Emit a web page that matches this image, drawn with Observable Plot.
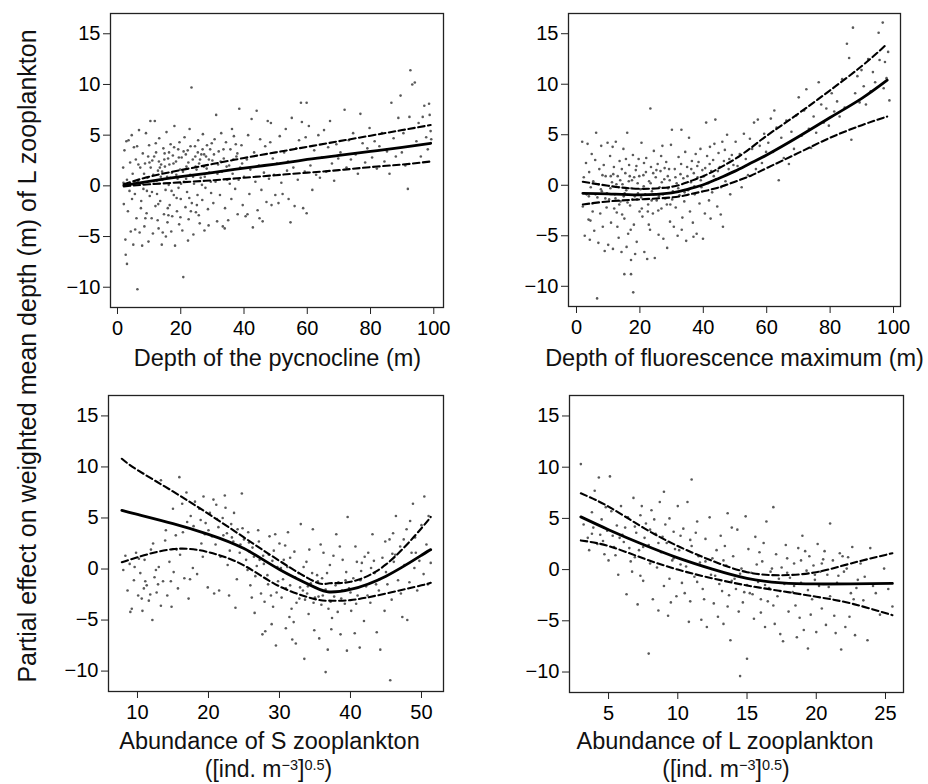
<!DOCTYPE html>
<html><head><meta charset="utf-8">
<script src="https://cdn.jsdelivr.net/npm/d3@7"></script>
<script src="https://cdn.jsdelivr.net/npm/@observablehq/plot@0.6"></script>
<style>
body{margin:0;background:#fff;}
#fig{position:relative;width:928px;height:784px;background:#fff;font-family:"Liberation Sans",Arial,Helvetica,sans-serif;}
#fig > svg{position:absolute;}
</style></head><body><div id="fig"></div>
<script>
// ---------- shared ----------
const yTicks = [-10, -5, 0, 5, 10, 15];
const yLabel = "Partial effect on weighted mean depth (m) of L zooplankton";

// ---------- panel 1: depth of the pycnocline ----------
const p1Title = "Depth of the pycnocline (m)";
const p1Ticks = [0, 20, 40, 60, 80, 100];
const p1FitX  = [2, 10, 20, 30, 40, 50, 60, 70, 80, 90, 99];
const p1Fit   = [0.05, 0.45, 0.9, 1.3, 1.75, 2.15, 2.6, 3.0, 3.4, 3.8, 4.2];
const p1Upper = [0.15, 0.9, 1.55, 2.15, 2.75, 3.3, 3.85, 4.4, 4.95, 5.5, 6.0];
const p1Lower = [-0.05, 0.15, 0.35, 0.55, 0.8, 1.05, 1.3, 1.55, 1.85, 2.1, 2.4];
const p1Points = [
[1.8,1.8],[2,-1.8],[2.2,3.5],[2.5,-5.3],[2.6,-6.8],[3,-7.7],[3,0.6],[3.5,4.5],[3.8,-0.5],[4,2.3],[4.2,-4.5],[4.5,5],[4.8,1.2],[5,-5.8],[5.2,3.8],[5.5,-0.8],[3.3,-2.5],[2.8,4.4],[4.6,-1.3],[1.9,0.3],
[5.8,2.6],[6,-3.2],[6.3,-10.2],[6.5,0.5],[6.8,5.5],[7,-4.6],[7.2,1.8],[7.5,-1.5],[7.8,-5.9],[8,3.2],[8.2,-0.3],[8.5,-4],[8.7,2.2],[9,5.2],[9.2,-2.7],[9.5,0.8],[9.8,-5.5],[10,4],[10.2,-1],[10.5,1.8],[6.2,3.9],[7.4,-2.2],[8.8,-3.2],[9.7,2.9],[5.6,-4.3],[10.4,6.4],[9.3,-0.5],[7.9,0.2],
[10.8,-3.2],[11,2.5],[11.2,-4.7],[11.5,0.2],[11.8,6.4],[12,-2],[12.2,3.3],[12.5,-0.8],[12.8,1.5],[13,-4.2],[13.2,4.7],[13.5,-1.5],[13.8,2.1],[14,-5.8],[14.2,0.6],[14.5,3.7],[14.7,-2.8],[15,1.9],[15.2,-0.4],[15.5,5.3],[15.8,-3.6],[16,2.7],[16.2,0.1],[16.5,-1.9],[16.8,4.1],[17,-4.5],[17.2,1.3],[17.5,3],[17.8,-0.9],[18,5.9],[18.2,-5.9],[18.5,2.4],[18.8,-2.5],[19,0.7],[19.2,3.6],[19.5,-3.8],[19.8,1.6],[20,-1.3],[11.3,1.1],[12.7,-3.4],[13.7,0.9],[14.8,2.6],[15.9,-2.2],[16.7,0.8],[17.7,2.2],[18.7,-1.2],[19.6,4.3],[10.9,-0.6],[14.3,-4.6],[16.3,3.3],[17.3,-3],[19.3,-0.2],[12.1,4.2],[13.4,1.8],[15.3,-5],
[20.3,2.8],[20.5,-4.4],[20.8,-9],[21,0.4],[21.2,4.8],[21.5,-2.1],[21.8,1.9],[22,-0.6],[22.2,3.5],[22.5,-3.3],[22.8,5.6],[23,1.1],[23.4,9.7],[23.5,-1.7],[23.8,2.6],[24,-4.8],[24.2,0.2],[24.5,3.9],[24.8,-2.6],[25,1.6],[25.3,-0.9],[25.5,4.5],[25.8,2.2],[26,-3.7],[26.3,0.8],[26.5,3.1],[26.8,-1.4],[27,5.1],[27.3,1.9],[27.5,-4.4],[27.8,-0.2],[28,2.9],[28.3,4],[28.6,-2.3],[29,1.3],[29.3,3.6],[29.6,-0.7],[30,2.5],[20.7,1.4],[22.3,-5.4],[24.6,2.9],[26.9,3.6],[28.8,-3.9],[21.6,3.1],[23.2,-2.5],[25.7,-2.9],[27.6,0.9],[29.8,4.2],
[30.3,-1.7],[30.7,4.6],[31,0.4],[31.2,7],[31.5,-3.5],[31.8,2.1],[32,3.4],[32.4,-0.9],[32.8,5.2],[33,1.4],[33.3,-4],[33.6,2.7],[34,-2.2],[34.3,4.3],[34.7,0.6],[35,-3.4],[35.3,2],[35.7,3.6],[36,-1.3],[36.4,1.2],[36.8,4.9],[37.2,-0.3],[37.6,2.9],[38,-2.8],[38.5,7.6],[38.8,1.8],[39.2,4],[39.6,-1.9],[40,0.9],[33.9,-4.2],[36.2,5.6],[37.9,3.2],
[40.5,-3],[40.9,2.6],[41.3,5],[41.7,-0.8],[42,1.6],[42.4,6.6],[42.8,-4.1],[43.2,3.3],[43.6,0.4],[44,7.4],[44.3,-2.4],[44.7,2],[45.1,4.6],[45.5,-0.4],[45.9,-3.5],[46.3,1.3],[46.7,3.9],[47.1,-1.6],[47.5,6.4],[47.9,0.7],[48.3,4.3],[48.7,-1.9],[49.1,2.7],[49.5,1.1],[49.9,-0.9],[48.5,6.2],[41.1,-2.8],[44.9,-3.2],
[50.4,2.2],[50.9,-1.7],[51.3,4.9],[51.8,0.3],[52.2,-0.8],[52.7,3.3],[53.2,5.6],[53.6,1.5],[54.1,-1.3],[54.7,-3.6],[55.1,6.7],[55.6,1.8],[56,-2],[56.5,3.7],[57,0.6],[57.4,4.5],[58,8.2],[58.3,6.3],[58.7,-2.2],[59.2,1.4],[59.8,-2.7],[59.8,8.2],[59.5,4.8],[53.9,2.4],
[60.5,5.9],[61,2],[61.6,-0.4],[62.2,3.5],[62.8,1.1],[63.5,5],[64,0.8],[64.6,2.8],[65.3,5.5],[66,1.4],[66.6,3.8],[67.2,6.4],[67.8,2.2],[68.5,0.5],[69.2,4.1],[69.8,2.7],
[70.5,3.3],[71.8,7.5],[72.4,1.8],[73.1,4.5],[73.8,2.6],[74.5,5.2],[75.3,3.1],[76,1.2],[76.8,7.1],[77.5,4.2],[78.3,2.3],[79,3.7],[79.7,5.7],
[80.5,2.8],[81.3,4.4],[82,1.7],[82.8,3.9],[83.6,5.2],[84.4,2.4],[85.2,3.4],[86,1.2],[86.6,8.2],[87.3,4.7],[88,2.9],[88.8,6.7],[89.5,8.9],[89.9,3.3],
[90.4,5.2],[91,2],[91.8,-0.3],[92.6,11.4],[92.3,6.8],[93.2,10],[94,10.2],[94.5,4.4],[95.2,6.2],[95.9,2.9],[96.5,6.8],[97,7.9],[97.6,4.8],[98.1,3.6],[98.5,8.1],[98.7,7],[99,5.4],[99.2,4.6],
[11.6,2.9],[12.4,0.5],[13.1,2.4],[14.1,1.4],[14.9,3.2],[15.7,0.9],[16.4,2.1],[17.1,-0.5],[17.9,3.8],[18.6,1.1],[19.4,2.8],[20.1,0.2],[20.9,3.4],[21.7,0.7],[22.4,2.3],[23.1,3.9],[23.9,0.9],[24.7,1.9],[25.4,3.3],[26.1,2.6],[26.7,0.1],[27.4,3.1],[28.2,1.7],[28.9,2.6],[29.5,0.4],[30.5,3.1],[31.6,1.2],[32.6,2.4],[33.5,3.6],[34.5,1.9],[35.5,0.2],[36.6,2.6],[37.4,4.1],[38.3,0.6],[39.4,2.2],[12.9,-1.8],[16.1,-2.9],[19.9,-3.1],[22.7,-1.2],[25.1,-1.9],[10.1,2.3],[8.4,1.2],[6.6,2.1],[5.3,0.4]
];

// ---------- panel 2: depth of fluorescence maximum ----------
const p2Title = "Depth of fluorescence maximum (m)";
const p2Ticks = [0, 20, 40, 60, 80, 100];
const p2FitX  = [2, 10, 20, 30, 35, 40, 45, 50, 55, 60, 70, 80, 90, 98];
const p2Fit   = [-0.8, -0.85, -0.95, -0.75, -0.4, 0.05, 0.7, 1.4, 2.2, 3.0, 4.8, 6.7, 8.6, 10.4];
const p2Upper = [0.35, -0.05, -0.35, -0.15, 0.3, 0.9, 1.7, 2.6, 3.7, 4.9, 7.1, 9.4, 11.8, 14.0];
const p2Lower = [-1.9, -1.6, -1.4, -1.2, -0.95, -0.6, -0.2, 0.35, 0.95, 1.7, 3.2, 4.7, 5.95, 6.8];
const p2Points = [
[1.8,4.3],[2,-2.1],[2.3,0.8],[2.6,-5],[3,2.2],[3.2,-0.9],[3.5,4.1],[3.8,-3.4],[4,1.3],[4.2,-5.4],[4.5,-0.2],[4.8,3.1],[5,-1.8],[5.3,0.4],[5.6,-4.5],[5.9,2.5],[6.2,5.2],[6.5,-11.2],[6.6,-1.2],[6.9,-5.7],[7.2,1.6],[7.5,-2.8],[7.8,3.9],[8,-0.6],[8.3,-4.1],[8.6,2],[8.9,-6.5],[9.2,0.9],[9.5,-2.2],[9.8,4.2],[10,-5.9],[7,0.1],[8.2,1],[4.4,-3.5],[9.6,-0.8],[5.1,-2.6],
[10.3,-1.4],[10.6,2.9],[10.9,-3.7],[11.2,0.3],[11.5,-6.3],[11.8,1.8],[12.1,-0.9],[12.4,4.3],[12.7,-2.7],[13,0.9],[13.3,-5.2],[13.6,2.4],[13.9,-1.6],[14.2,-6.6],[14.5,0.1],[14.8,3.6],[15.1,-8.8],[15.1,-3.3],[15.4,1.2],[15.7,-0.5],[16,5.2],[16.3,-4.8],[16.6,2],[16.9,-2],[17.2,-8.8],[17.2,-7.4],[17.5,0.5],[17.9,-10.6],[17.8,3],[18.1,-3.9],[18.4,-1.1],[18.7,1.5],[19,-5.6],[19.3,0.2],[19.6,2.6],[19.9,-2.6],[10.8,0.9],[11.9,-2.3],[12.9,-4.1],[13.8,0.5],[14.9,-1.1],[15.8,-6.1],[16.8,0.9],[17.6,-1.4],[18.5,-6.8],[19.4,-0.8],[11.4,3.8],[13.4,-0.2],[15.6,2.6],[17.1,-4.4],[18.9,1.9],[12.3,-1.3],[14.4,-2.9],
[20.2,-0.4],[20.5,4.2],[20.8,-3.1],[21.1,1],[21.4,-6.6],[21.7,-0.9],[22,2.7],[22.3,-7.3],[22.6,-1.9],[22.9,0.4],[23.3,7.6],[23.2,-4.4],[23.5,1.8],[23.8,-0.6],[24.1,-2.8],[24.4,3.4],[24.7,-7.2],[25,0.8],[25.3,-1.5],[25.6,2.1],[25.9,-4.9],[26.2,-0.2],[26.5,1.4],[26.8,-2.3],[27.1,3.9],[27.4,-5.3],[27.7,0.6],[28,-1.3],[28.3,2.3],[28.6,-6.2],[28.9,-0.3],[29.2,1.6],[29.5,-3.6],[29.8,4],[21.3,2.2],[22.8,-3.9],[24.2,1.2],[25.8,-2.5],[27.3,-0.9],[28.8,0.9],[20.6,-2.3],[23.7,-1.5],[26.7,2.9],[29.6,-1.9],
[30.1,5.5],[30.4,-0.6],[30.7,-4.1],[31,1.6],[31.3,-2.2],[31.6,0.2],[31.9,-5],[32.2,2.8],[32.5,-1],[32.8,1.1],[33.1,5.5],[33.4,-3.2],[33.7,0.7],[34,-1.6],[34.3,3.3],[34.6,-5.5],[34.9,1.8],[35.2,-0.5],[35.5,4.7],[35.8,-2.6],[36.1,0.3],[36.4,2.4],[36.7,-3.7],[37,1.2],[37.3,-0.9],[37.6,3.1],[37.9,-4.8],[38.2,0.8],[38.5,2.3],[38.8,-1.8],[39.1,3.6],[39.4,-0.2],[39.7,1.5],[33.2,-4.4],[36.9,-5.1],[39.9,-5.3],
[40.2,0.9],[40.5,-2.8],[40.9,6.2],[41.2,2.9],[41.5,0.2],[41.8,-1.5],[42.1,3.8],[42.5,1.4],[42.8,-0.7],[43.1,2.5],[43.8,6.5],[43.5,4.1],[44,0.6],[44.4,-2.1],[44.8,3.2],[45.2,1.8],[45.6,-0.2],[46,4.3],[46.2,-4.1],[46.5,2.4],[47,0.4],[47.5,5],[48,1.6],[48.5,-0.9],[49,3],[49.5,2],[42.3,-3.3],[45.5,-2.9],
[50.2,4.3],[50.8,1.9],[51.5,3.1],[52.1,-0.2],[52.8,5.1],[53.4,2.6],[54.1,1],[54.7,4.6],[55.4,3.6],[56,6.2],[56.6,1.6],[57.2,6.5],[57.8,3.9],[58.5,2.2],[59.2,5.1],[59.8,3.3],
[60.5,4.2],[61.3,6.6],[62,3.3],[62.4,7.4],[63.1,5.7],[63.8,0.5],[64.6,4.7],[65.4,2.7],[66.2,6.4],[67,2.1],[67.8,5.3],[68.6,3.6],[69.3,6.9],[70.1,8.7],
[71,4.9],[71.8,7.4],[72.5,9.5],[73.3,5.6],[74,3.7],[74.8,6.8],[75.6,5.2],[76.4,10.2],[77.2,8],[78,6.2],[78.8,7.6],[79.6,5.9],
[80.5,9.1],[81.3,7.3],[82.2,8.3],[83,6.8],[83.8,10.5],[84.6,7.7],[85.3,14],[86,12.6],[86.7,4.5],[87.2,15.6],[87.9,9.1],[88.6,10.8],[89.3,8.2],[89.9,11.4],
[90.6,9.8],[91.3,8],[92,12.5],[92.8,9.3],[93.5,11.2],[94.2,10.2],[95.3,15.1],[95.6,12.4],[96.6,16.1],[96.9,9.6],[97.3,12.2],[97.8,10.6],[98.3,13.2],[98.7,8.4],
[10.7,-0.3],[11.6,1.1],[12.6,0.1],[13.5,-1.9],[14.3,1.6],[15.2,-0.8],[16.1,-1.7],[16.5,0.4],[17.3,-0.3],[18.2,0.8],[19.1,-1.4],[19.8,0.9],[20.4,-1.2],[21.2,-0.1],[21.9,1.3],[22.5,-2.6],[23.4,0.2],[24.3,-0.9],[25.2,1.5],[26,-1.1],[26.9,0.3],[27.8,1.7],[28.5,-1.9],[29.4,0.5],[30.2,-1.4],[31.2,0.8],[32.1,-0.3],[33,2.1],[34.1,-0.7],[35,0.9],[36.2,1.6],[37.2,-0.1],[38.1,1.9],[39.2,0.5],[40.6,1.7],[42,2.1],[43.3,0.9],[44.6,1.4],[46.8,3.5],[48.2,2.6],[9.1,-1.3],[7.7,-0.4],[6,-0.9],[3.9,-1.1]
];

// ---------- panel 3: abundance of S zooplankton ----------
const p3Title = "Abundance of S zooplankton";
const p3Ticks = [10, 20, 30, 40, 50];
const p3FitX  = [7.8, 10, 15, 20, 25, 30, 35, 37, 40, 45, 50, 51.3];
const p3Fit   = [5.75, 5.35, 4.45, 3.4, 2.0, -0.05, -1.8, -2.25, -2.0, -0.7, 1.35, 1.9];
const p3Upper = [10.8, 9.7, 7.6, 5.4, 3.1, 0.8, -1.25, -1.4, -1.25, 0.45, 4.0, 5.1];
const p3Lower = [0.66, 1.15, 1.95, 1.65, 0.35, -1.7, -2.95, -3.1, -3.05, -2.4, -1.6, -1.35];
const p3Points = [
[8,-0.1],[8.3,1.3],[8.6,-2.1],[8.9,0.5],[9.2,-3.9],[9.5,-1.1],[9.8,1.6],[10.1,-2.6],[10.4,-0.4],[10.7,-4.1],[11,0.9],[11.3,-1.6],[11.6,-3.1],[11.9,1.9],[12.1,-5],[12.4,-0.8],[12.7,-2.3],[13,0.2],[13.3,8.7],[13.3,-3.6],[10.2,1],[11.1,-1.2],[12.2,2.5],[9,-4.2],[11.8,-2.5],[12.9,-1.5],[10.6,-2.9],[9.6,0.2],
[13.6,-1.2],[13.9,2.8],[14.2,-2.6],[14.5,0.7],[14.8,-3.7],[15.1,-0.3],[15.4,3.3],[15.9,9],[15.7,-1.9],[16,1.4],[16.3,6.4],[16.6,-0.9],[16.9,7.5],[17.2,-2.9],[17.5,5.2],[17.8,0.1],[18.1,6.6],[18.4,-0.5],[14,3.8],[15,5.9],[16.4,3.6],[17.4,-1],[17.9,4.2],[14.7,-1.2],
[18.7,5.9],[19,2.5],[19.3,7.1],[19.6,4.5],[19.9,-1.8],[20.2,5.5],[20.5,3.2],[20.8,-2.4],[21.1,6.3],[21.4,4.1],[21.7,1.2],[22,5],[22.3,7.2],[22.6,3.5],[22.9,-2.6],[23.2,4.4],[23.5,2.7],[23.8,-3.8],[24.1,3.9],[24.4,1.6],[24.7,7.4],[25,2.9],[19.2,1.2],[20,3.8],[21.5,-2.1],[22.4,6],[23,1.8],[24,-1],[18.9,4.8],[21,2.4],[22.7,0.4],[24.8,4],[20.7,6.8],[23.6,5.5],
[25.3,0.9],[25.6,3.6],[25.9,-1.6],[26.2,2.1],[26.5,-4.3],[26.8,0.3],[27.1,2.7],[27.4,-2.4],[27.7,1.3],[28,-6.1],[28.3,-0.6],[28.6,3.2],[28.9,-5.4],[29.2,1.8],[29.5,-7.5],[29.8,-1.2],[30,2.5],[25.8,1.7],[26.6,-0.7],[27.2,0.9],[27.9,-3.2],[28.5,1.4],[29.1,-3.7],[29.7,0.2],[26.1,-2.8],[27.6,-6.4],[28.8,-2.6],[29.4,3.4],[25.5,-0.1],[27,3.8],
[30.3,-2.8],[30.6,0.9],[30.9,-5.8],[31.2,3.6],[31.5,-1.6],[31.8,-6.9],[32.1,1.7],[32.4,-3.3],[32.7,-0.4],[33,4.4],[33.3,-2.1],[33.5,-8.8],[33.8,0.7],[34.1,-4.4],[34.4,-1.4],[34.7,3.9],[35,-2.8],[30.5,-1],[31.1,0.2],[31.7,-3.9],[32.3,-7.3],[32.9,-1.8],[33.6,-3],[34.2,1.9],[34.9,-6],[30.8,2.3],[32,-5.2],[33.9,-2.4],[34.6,-0.4],[31.4,-4.7],
[35.3,-0.6],[35.6,-6.8],[35.9,-3.5],[36.2,1.6],[36.5,-10.1],[36.5,-2],[36.8,-7.9],[37.1,0.4],[37.4,-4.8],[37.7,-2.7],[38,3.4],[38.3,-1.3],[38.6,-6.4],[38.9,0.9],[39.2,-3.4],[39.6,5.1],[39.5,-8],[39.8,-1.9],[35.5,-2.7],[36,-0.9],[36.9,-3.9],[37.6,1.3],[38.2,-4.2],[38.8,-2.1],[39.4,-0.3],[35.8,2.4],[37.3,-5.9],[38.5,2.2],
[40.1,-4.1],[40.4,-0.9],[40.7,2.2],[41,-2.6],[41.3,-7.7],[41.6,0.6],[41.9,-5.1],[42.2,-1.7],[42.5,1.6],[42.8,-3.3],[43.1,3.4],[43.4,-0.4],[43.7,-6.2],[44,-2.1],[44.2,-7.9],[44.5,1.1],[44.8,-4.1],[40.6,-6.3],[42,1.2],[43.6,-1.5],[44.9,2.7],[41.4,-1.1],[42.9,0.1],[40.9,0.7],
[45.2,-1.5],[45.6,-10.9],[45.5,2.9],[45.8,-3],[46.1,0.7],[46.4,5.2],[46.7,-1.1],[47,2.2],[47.3,-4.7],[47.6,0.4],[47.9,3.9],[48,-5],[48.3,-1.3],[48.8,6.4],[48.6,1.6],[49.1,3.1],[49.4,-2.1],[49.7,0.8],[50,4.3],[50.4,7.1],[50.3,-0.5],[50.7,2.4],[51,5.2],[51.3,0.6],[46,3.5],[47.1,-2.4],[49.2,1.6],[50.9,-1.5],[45.9,1.5],[48.4,4.7],
[27.8,0.5],[28.4,-1.5],[29,0.8],[29.6,-2.3],[30.2,0.1],[30.9,-1.9],[31.5,1.1],[32.2,-0.8],[32.8,-2.9],[33.4,0.2],[34,-1.7],[34.8,-3.3],[35.4,-1.2],[36.1,-2.6],[36.7,-0.4],[37.2,-3.2],[37.9,-1.6],[38.7,-2.9],[39.3,-1.1],[40,-2.3],[40.8,-3.4],[41.5,-0.2],[42.4,-2.6],[43.3,0.8],[44.1,-1],[45,-0.3],[46.3,1.4],[47.5,2.9],[49,0.1],[21.2,4.9],[22.1,3.3],[23.3,3.1],[24.5,2.4],[25.7,2.6],[26.4,1.2],[19.5,3.4],[17,4.6],[15.5,1.9],[12.6,-0.1],[10.9,-1.9]
];

// ---------- panel 4: abundance of L zooplankton ----------
const p4Title = "Abundance of L zooplankton";
const p4Ticks = [5, 10, 15, 20, 25];
const p4FitX  = [3, 5, 7.5, 10, 12.5, 15, 17.5, 20, 22.5, 25.5];
const p4Fit   = [5.15, 3.9, 2.45, 1.15, 0.05, -0.85, -1.3, -1.4, -1.4, -1.35];
const p4Upper = [7.45, 6.15, 4.1, 2.3, 0.85, -0.25, -0.55, -0.25, 0.6, 1.6];
const p4Lower = [2.85, 2.3, 1.1, 0.0, -0.85, -1.55, -2.1, -2.65, -3.3, -4.45];
const p4Points = [
[3.2,4.4],[3,10.3],[3.5,3.1],[3.8,5.6],[4,7.7],[4.2,2.5],[4.3,9],[4.5,4.9],[4.7,1.5],[4.9,3.8],[5.1,9.1],[5.2,5.7],[5.4,2.2],[5.6,4.3],[5.7,-0.5],[5.9,6.2],[3.6,1.9],[4.4,3.4],[5,0.9],[5.8,3.1],[3.9,4.1],[4.8,6.1],[5.5,1.4],
[6.1,2.7],[6.3,-2.4],[6.4,5.1],[6.6,0.8],[6.8,7],[7,3.6],[7.2,1.9],[7.4,6.2],[7.5,-1.1],[7.7,4.5],[7.9,-8.2],[7.9,2.4],[8.1,5.8],[8.2,-2.9],[8.4,3.5],[8.5,0.2],[8.7,6.6],[8.8,1.7],[9,7.6],[9,-1.6],[6.2,4.1],[6.9,1.2],[7.6,3.1],[8.3,4.9],[8.9,3.2],[6.7,-0.2],[7.3,5.3],[8.6,-4],[6.5,2.1],[8,0.6],[7.1,-3.4],
[9.2,2.6],[9.3,-4.5],[9.4,5],[9.6,0.9],[9.7,3.7],[9.9,-2.6],[10,6.2],[10.1,1.9],[10.3,-1.3],[10.4,4],[10.6,0.3],[10.7,6.6],[10.9,-3.1],[11,8.8],[11,2.3],[11.2,-0.7],[11.4,4.7],[11.5,1.3],[11.7,-4.9],[11.8,-1.9],[12,3],[9.5,-3.2],[10.2,3.3],[10.8,-5.1],[11.6,0.7],[9.8,2],[10.5,-2.3],[11.3,3.6],[12.1,-5.6],
[12.3,5.1],[12.4,-0.5],[12.6,-3.3],[12.8,1.9],[13,-1.4],[13.1,3.3],[13.3,-5.3],[13.5,0.4],[13.6,5.5],[13.7,-2.5],[13.8,-6.9],[14,1.3],[14.1,-0.9],[14.3,3.9],[14.4,-4.1],[14.5,-10.4],[14.6,0.1],[14.8,-2.2],[14.9,5.2],[15,-8.7],[15,-1.5],[12.5,1.1],[13.2,-2.1],[13.9,4.1],[14.7,-3.2],[12.9,-4.6],[13.4,2.3],[14.2,-1.9],[15.1,2],
[15.3,-0.3],[15.5,-4.8],[15.6,3.2],[15.8,-1.2],[16,-2.9],[16.1,0.8],[16.3,-5.6],[16.4,4.7],[16.6,-1.8],[16.7,-0.2],[16.9,6.1],[16.9,-3.5],[17.1,1.5],[17.2,-2.6],[17.4,-6.3],[17.5,0.2],[17.7,-1.4],[17.8,2.4],[18,-4.1],[18.1,-0.8],[15.9,1.7],[16.5,-3.1],[17.3,-0.9],[17.9,1.1],[15.4,-2.4],[16.2,2.6],[17,-5.3],[17.6,-7],
[18.3,-2.2],[18.4,0.6],[18.6,-6.6],[18.7,2.1],[18.9,-1.3],[19,3.3],[19.1,-5.9],[19.3,-0.1],[19.4,-7.7],[19.5,1.3],[19.7,-2.9],[19.8,0.4],[20,-6.1],[20.1,2.5],[20.2,-1.6],[20.4,-3.8],[20.5,1],[20.7,-5.4],[20.8,-0.5],[21,4.5],[21,-2.6],[18.5,-3.5],[19.2,1.8],[19.9,-1],[20.6,1.8],[18.8,-4.7],[20.3,-0.2],
[21.2,0.9],[21.4,-6.2],[21.5,-1.3],[21.7,1.6],[21.8,-7.8],[22,-0.2],[22.1,-5.6],[22.3,1.2],[22.5,-2.3],[22.6,2.2],[22.8,-6.4],[23,-1],[23.2,0.6],[23.4,-3],[23.7,-6.9],[23.9,2.1],[24.1,-1.6],[24.3,-2.3],[24.6,-4.4],[24.9,0.1],[25.2,-1.9],[25.5,-3.6],[21.3,-4.5],[22.4,-4.6],[21.9,1.3],[23.5,-0.7],
[6,3.4],[6.9,4.2],[7.5,2.2],[8,3.9],[8.6,2.6],[9.1,4.4],[9.7,1.1],[10.2,0.5],[10.9,2.9],[11.4,-1.2],[12,0.8],[12.7,-0.6],[13.3,0.9],[13.9,-1.1],[14.5,-0.4],[15.2,-2.3],[15.7,0.5],[16.3,-1.5],[16.8,0.1],[17.4,-2.1],[17.9,-0.3],[18.4,-1.6],[18.9,0.9],[19.4,-2],[19.9,-0.5],[20.4,0.6],[20.9,-1.7],[21.6,-0.6],[22.2,0.1],[22.9,-1.8],[5.3,3.3],[4.6,2.8],[3.8,3.5],[7.3,-0.6],[9.4,-0.9],[11.9,-2.9],[13.6,-3.6],[16,-4.2],[19.6,-4.4],[22.7,-2.9]
];

// ---------- drawing ----------
const FONT = '"Liberation Sans", Arial, Helvetica, sans-serif';
const fig = document.getElementById("fig");
const series = (xs, ys) => xs.map((x, i) => ({x, y: ys[i]}));

function panel(o) {
  const chart = Plot.plot({
    width: 464, height: 392,
    marginLeft: o.m[0], marginRight: o.m[1], marginTop: o.m[2], marginBottom: o.m[3],
    x: {domain: o.xDomain},
    y: {domain: [-12, 17]},
    style: {fontFamily: FONT, fontSize: "20px", background: "transparent", color: "#000", overflow: "visible"},
    marks: [
      Plot.dot(o.points, {x: d => d[0], y: d => d[1], r: 1.3, fill: "#3c3c3c", fillOpacity: 0.85, stroke: "none"}),
      Plot.line(series(o.fitX, o.upper), {x: "x", y: "y", stroke: "#000", strokeWidth: 2.1, strokeDasharray: "6.5,3.5", curve: "natural"}),
      Plot.line(series(o.fitX, o.lower), {x: "x", y: "y", stroke: "#000", strokeWidth: 2.1, strokeDasharray: "6.5,3.5", curve: "natural"}),
      Plot.line(series(o.fitX, o.fit), {x: "x", y: "y", stroke: "#000", strokeWidth: 2.8, curve: "natural"}),
      Plot.frame({stroke: "#222", strokeWidth: 1.3}),
      Plot.axisX({ticks: o.xTicks, tickSize: 7, tickPadding: 6, label: null, fontSize: 20, stroke: "#222"}),
      Plot.axisY({ticks: yTicks, tickSize: 7, tickPadding: 3, label: null, fontSize: 20, stroke: "#222"})
    ]
  });
  chart.style.left = o.left + "px";
  chart.style.top = o.top + "px";
  fig.appendChild(chart);
}

panel({points: p1Points, fitX: p1FitX, fit: p1Fit, upper: p1Upper, lower: p1Lower,
  xDomain: [-2.21, 103.07], xTicks: p1Ticks, left: 0, top: 0, m: [110, 21, 13, 85]});
panel({points: p2Points, fitX: p2FitX, fit: p2Fit, upper: p2Upper, lower: p2Lower,
  xDomain: [-2.52, 102.2], xTicks: p2Ticks, left: 464, top: 0, m: [104, 28, 13, 86]});
panel({points: p3Points, fitX: p3FitX, fit: p3Fit, upper: p3Upper, lower: p3Lower,
  xDomain: [5.92, 53.1], xTicks: p3Ticks, left: 0, top: 392, m: [108, 21, 3, 93]});
panel({points: p4Points, fitX: p4FitX, fit: p4Fit, upper: p4Upper, lower: p4Lower,
  xDomain: [2.18, 26.3], xTicks: p4Ticks, left: 464, top: 392, m: [105, 25, 3, 92]});

// ---------- titles ----------
const ov = d3.select(fig).append("svg")
  .attr("width", 928).attr("height", 784)
  .style("left", "0px").style("top", "0px")
  .style("font-family", FONT).style("pointer-events", "none");

function title(x, y, txt) {
  ov.append("text").attr("x", x).attr("y", y).attr("text-anchor", "middle")
    .attr("font-size", 23.5).attr("fill", "#111").text(txt);
}
function unitLine(x, y) {
  const t = ov.append("text").attr("x", x).attr("y", y).attr("text-anchor", "middle")
    .attr("font-size", 23).attr("fill", "#111");
  t.append("tspan").text("([ind. m");
  t.append("tspan").attr("font-size", 14.5).attr("dy", -7).text("\u22123");
  t.append("tspan").attr("dy", 7).text("]");
  t.append("tspan").attr("font-size", 14.5).attr("dy", -7).text("0.5");
  t.append("tspan").attr("dy", 7).text(")");
}
title(277.5, 366, p1Title);
title(734.5, 366, p2Title);
title(269.5, 749, p3Title);
unitLine(268.5, 777);
title(725, 749, p4Title);
unitLine(726, 777);

ov.append("text")
  .attr("transform", "translate(36,356) rotate(-90)")
  .attr("text-anchor", "middle").attr("font-size", 25).attr("fill", "#111")
  .text(yLabel);
</script>
</body></html>
